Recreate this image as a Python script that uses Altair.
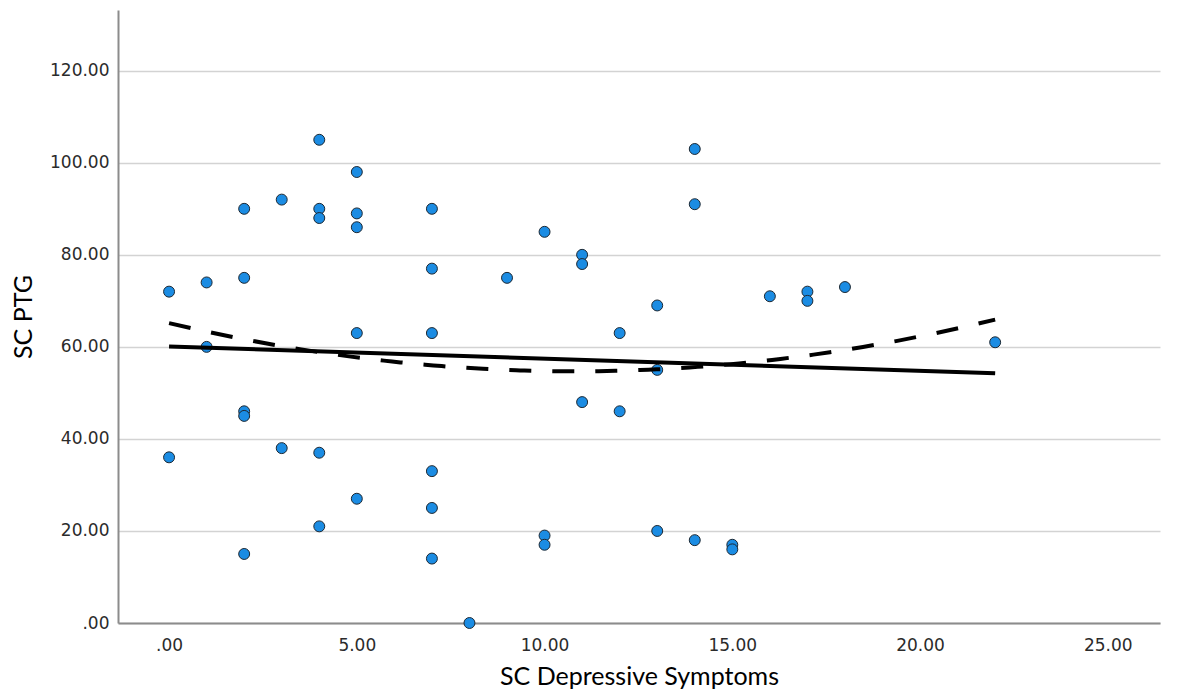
import altair as alt
import pandas as pd

# SC Depressive Symptoms (x) and SC PTG (y)
depressive = [0, 0,
              1, 1,
              2, 2, 2, 2, 2,
              3, 3,
              4, 4, 4, 4, 4,
              5, 5, 5, 5, 5,
              7, 7, 7, 7, 7, 7,
              8,
              9,
              10, 10, 10,
              11, 11, 11,
              12, 12,
              13, 13, 13,
              14, 14, 14,
              15, 15,
              16,
              17, 17,
              18,
              22]
ptg = [72, 36,
       74, 60,
       90, 75, 46, 45, 15,
       92, 38,
       105, 90, 88, 37, 21,
       98, 89, 86, 63, 27,
       90, 77, 63, 33, 25, 14,
       0,
       75,
       85, 19, 17,
       80, 78, 48,
       63, 46,
       69, 55, 20,
       103, 91, 18,
       17, 16,
       71,
       72, 70,
       73,
       61]

x_ticks = [0, 5, 10, 15, 20, 25]
y_ticks = [0, 20, 40, 60, 80, 100, 120]

df = pd.DataFrame({"x": depressive, "y": ptg})

label_expr = "datum.value == 0 ? '.00' : format(datum.value, '.2f')"

x_enc = alt.X("x:Q", title="SC Depressive Symptoms",
              scale=alt.Scale(domain=[-1.36, 26.39], nice=False, zero=False),
              axis=alt.Axis(values=x_ticks, labelExpr=label_expr, grid=False, ticks=False,
                            domainColor="#8c8c8c", domainWidth=2,
                            labelFont="DejaVu Sans", labelFontSize=17, labelColor="#2b2b2b",
                            labelPadding=14,
                            titleFont="Lato", titleFontSize=25, titleFontWeight="normal",
                            titleColor="#000000", titlePadding=11))
y_enc = alt.Y("y:Q", title="SC PTG",
              scale=alt.Scale(domain=[0, 133.2], nice=False, zero=True),
              axis=alt.Axis(values=y_ticks, labelExpr=label_expr, grid=True,
                            gridColor="#d3d3d3", gridWidth=1.5, ticks=False,
                            domainColor="#8c8c8c", domainWidth=2,
                            labelFont="DejaVu Sans", labelFontSize=17, labelColor="#2b2b2b",
                            labelPadding=9,
                            titleFont="Lato", titleFontSize=25, titleFontWeight="normal",
                            titleColor="#000000", titlePadding=13))

points = alt.Chart(df).mark_point(filled=True, shape="circle", size=120,
                                  fill="#1b8ce3", stroke="#1c2833", strokeWidth=1,
                                  opacity=1, fillOpacity=1).encode(x=x_enc, y=y_enc)

linear = alt.Chart(df).transform_regression(
    "x", "y", method="linear", extent=[0, 22]
).mark_line(color="black", strokeWidth=4).encode(x="x:Q", y="y:Q")

quad = alt.Chart(df).transform_regression(
    "x", "y", method="poly", order=2, extent=[0, 22]
).mark_line(color="black", strokeWidth=4, strokeDash=[22, 21]).encode(x="x:Q", y="y:Q")

chart = alt.layer(points, linear, quad).properties(
    width=1042, height=613,
    padding={"left": 118, "top": 10, "right": 18, "bottom": 75},
    autosize=alt.AutoSizeParams(type="none"),
    background="white",
).configure_view(stroke=None)

chart.save("out.html", embed_options={"renderer": "svg", "actions": False})
